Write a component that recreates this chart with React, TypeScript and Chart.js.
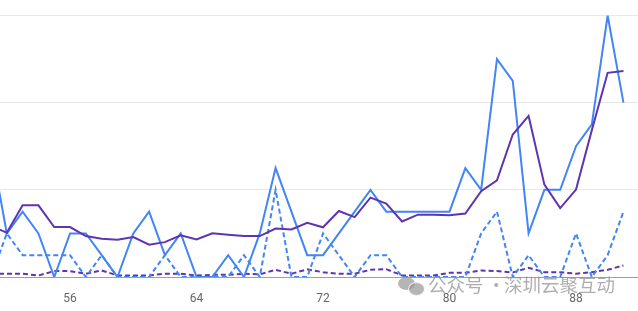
import React, { useEffect, useRef } from "react";
import { Chart, registerables } from "chart.js";

Chart.register(...registerables);

const xValues = [51, 52, 53, 54, 55, 56, 57, 58, 59, 60, 61, 62, 63, 64, 65, 66, 67, 68, 69, 70, 71, 72, 73, 74, 75, 76, 77, 78, 79, 80, 81, 82, 83, 84, 85, 86, 87, 88, 89, 90, 91];

const purpleSolid = [2.35, 2.03, 3.29, 3.29, 2.29, 2.29, 1.88, 1.76, 1.71, 1.83, 1.48, 1.6, 1.91, 1.72, 2.01, 1.94, 1.88, 1.88, 2.22, 2.18, 2.49, 2.28, 3.03, 2.75, 3.64, 3.37, 2.55, 2.86, 2.86, 2.83, 2.91, 3.94, 4.44, 6.54, 7.39, 4.24, 3.16, 4.01, 6.74, 9.37, 9.45];

const blueSolid = [6, 2, 3, 2, 0, 2, 2, 1, 0, 2, 3, 1, 2, 0, 0, 1, 0, 2, 5, 3, 1, 1, 2, 3, 4, 3, 3, 3, 3, 3, 5, 4, 10, 9, 2, 4, 4, 6, 7, 12, 8];

const blueDashed = [0, 2, 1, 1, 1, 1, 0, 1, 0, 0, 0, 1, 0, 0, 0, 0, 1, 0, 4, 0, 0, 2, 1, 0, 1, 1, 0, 0, 0, 0, 0, 2, 3, 0, 1, 0, 0, 2, 0, 1, 3];

const purpleDashed = [0.15, 0.15, 0.15, 0.07, 0.27, 0.27, 0.15, 0.3, 0.07, 0.07, 0.07, 0.15, 0.15, 0.07, 0.1, 0.1, 0.15, 0.12, 0.33, 0.15, 0.35, 0.22, 0.15, 0.15, 0.33, 0.36, 0.07, 0.07, 0.07, 0.19, 0.19, 0.3, 0.27, 0.21, 0.42, 0.22, 0.22, 0.15, 0.22, 0.33, 0.53];

const xTickValues = [56, 64, 72, 80, 88];
const yTickValues = [0, 4, 8, 12];

const BLUE = "#4285f4";
const PURPLE = "#5e35b1";

function toPoints(ys: number[]) {
  return xValues.map((x, i) => ({ x, y: ys[i] }));
}

const wmStyle: React.CSSProperties = {
  position: "absolute",
  top: 274,
  fontFamily: "'Noto Sans CJK SC'",
  fontSize: 18.5,
  lineHeight: "20px",
  color: "rgba(140,140,140,0.7)",
  whiteSpace: "nowrap",
};

export default function App() {
  const canvasRef = useRef<HTMLCanvasElement | null>(null);

  useEffect(() => {
    const canvas = canvasRef.current;
    if (!canvas) return;
    const chart = new Chart(canvas, {
      type: "line",
      data: {
        datasets: [
          { label: "a", data: toPoints(purpleSolid), borderColor: PURPLE, borderWidth: 2, pointRadius: 0, tension: 0, fill: false },
          { label: "b", data: toPoints(blueSolid), borderColor: BLUE, borderWidth: 2, pointRadius: 0, tension: 0, fill: false },
          { label: "c", data: toPoints(blueDashed), borderColor: BLUE, borderWidth: 2, borderDash: [5, 3], pointRadius: 0, tension: 0, fill: false },
          { label: "d", data: toPoints(purpleDashed), borderColor: PURPLE, borderWidth: 2, borderDash: [5, 3], pointRadius: 0, tension: 0, fill: false },
        ],
      },
      options: {
        responsive: false,
        animation: false,
        layout: { padding: { top: 15.5, left: 0, right: 0, bottom: 0 } },
        plugins: { legend: { display: false }, tooltip: { enabled: false } },
        scales: {
          x: {
            type: "linear",
            min: 51.57,
            max: 91.92,
            grid: { display: false },
            border: { display: false },
            afterBuildTicks: (scale: any) => {
              scale.ticks = xTickValues.map((v) => ({ value: v }));
            },
            afterFit: (scale: any) => {
              scale.height = 34;
            },
            ticks: {
              color: "#666666",
              font: { family: "Roboto", size: 12 },
              padding: 7,
              maxRotation: 0,
              autoSkip: false,
              callback: (v: any) => String(v),
            },
          },
          y: {
            min: 0,
            max: 12,
            afterBuildTicks: (scale: any) => {
              scale.ticks = yTickValues.map((v) => ({ value: v }));
            },
            afterFit: (scale: any) => {
              scale.width = 0;
            },
            ticks: { display: false },
            border: { display: false },
            grid: {
              drawTicks: false,
              color: (ctx: any) => (ctx.tick && ctx.tick.value === 0 ? "#9e9e9e" : "#e8e8e8"),
              lineWidth: 1,
            },
          },
        },
      },
    } as any);
    return () => chart.destroy();
  }, []);

  return (
    <div style={{ position: "fixed", left: 0, top: 0, width: 638, height: 311, background: "#ffffff", overflow: "hidden" }}>
      <canvas ref={canvasRef} width={638} height={311} style={{ display: "block", width: 638, height: 311 }} />
      <div style={{ position: "absolute", left: 398, top: 277, width: 17, height: 13, borderRadius: "50%", background: "rgba(150,150,150,0.7)" }} />
      <div style={{ position: "absolute", left: 408, top: 282, width: 15, height: 12, borderRadius: "50%", background: "rgba(150,150,150,0.7)", border: "1px solid rgba(255,255,255,0.8)" }} />
      <div style={{ ...wmStyle, left: 428 }}>公众号</div>
      <div style={{ ...wmStyle, left: 487 }}>·</div>
      <div style={{ ...wmStyle, left: 504 }}>深圳云聚互动</div>
    </div>
  );
}
